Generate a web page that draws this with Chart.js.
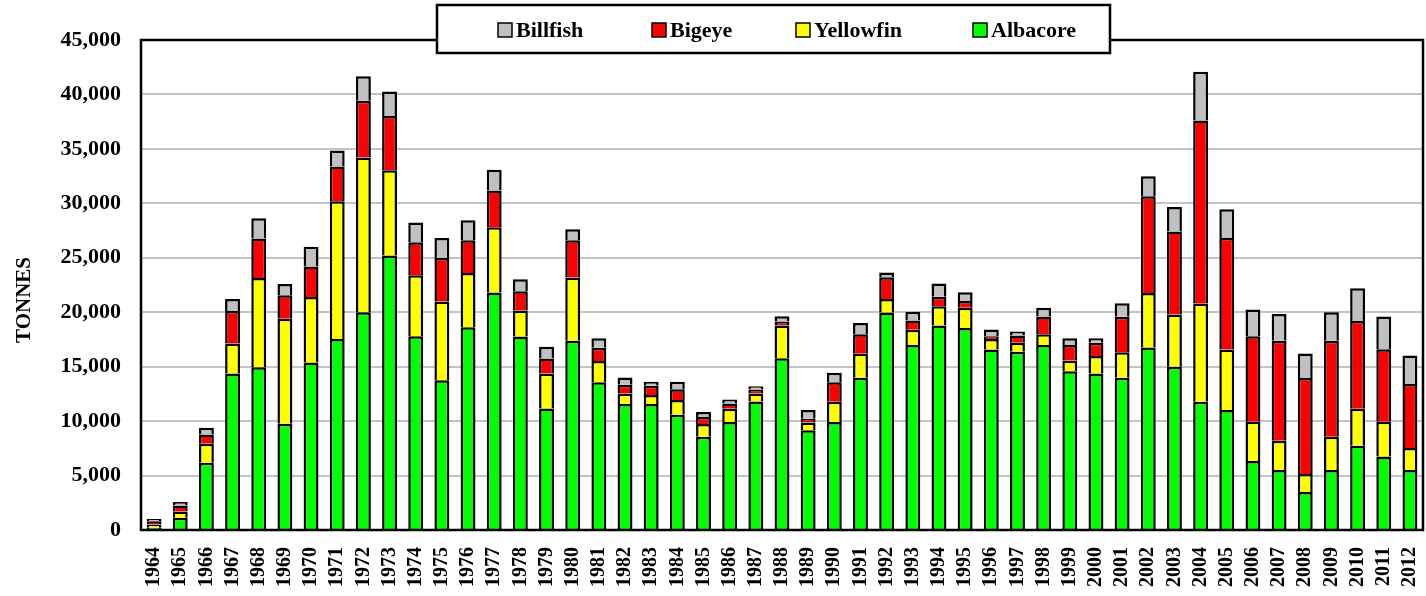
<!DOCTYPE html>
<html>
<head>
<meta charset="utf-8">
<title>Catch by species, 1964-2012</title>
<script src="https://cdn.jsdelivr.net/npm/chart.js@4.4.1/dist/chart.umd.min.js"></script>
<style>
  html, body { margin: 0; padding: 0; background: #fff; }
  #wrap { width: 1426px; height: 596px; }
</style>
</head>
<body>
<div id="wrap"><canvas id="catch-chart" width="1426" height="596"></canvas></div>
<script>
const years = ['1964','1965','1966','1967','1968','1969','1970','1971','1972','1973','1974','1975','1976','1977','1978','1979','1980','1981','1982','1983','1984','1985','1986','1987','1988','1989','1990','1991','1992','1993','1994','1995','1996','1997','1998','1999','2000','2001','2002','2003','2004','2005','2006','2007','2008','2009','2010','2011','2012']

// tonnes
const albacore = [200, 1130, 6180, 14370, 14950, 9760, 15380, 17550, 20000, 25200, 17800, 13760, 18620, 21800, 17770, 11160, 17370, 13580, 11560, 11560, 10580, 8560, 9910, 11800, 15780, 9170, 9910, 13980, 19970, 17000, 18780, 18560, 16570, 16360, 17000, 14590, 14370, 13980, 16760, 14990, 11770, 11010, 6330, 5510, 3490, 5510, 7740, 6760, 5510]
const yellowfin = [300, 580, 1740, 2750, 8200, 9630, 6020, 12630, 14220, 7830, 5590, 7220, 4990, 6000, 2380, 3210, 5810, 1950, 980, 830, 1350, 1170, 1220, 740, 3000, 710, 1860, 2200, 1250, 1380, 1770, 1840, 980, 830, 980, 980, 1620, 2350, 5010, 4800, 9030, 5560, 3610, 2690, 1650, 3050, 3390, 3180, 2010]
const bigeye = [300, 550, 860, 3000, 3610, 2170, 2790, 3210, 5200, 4980, 3030, 4000, 2990, 3390, 1780, 1380, 3420, 1200, 790, 850, 1000, 650, 490, 360, 360, 330, 1810, 1800, 1990, 860, 860, 640, 250, 670, 1620, 1430, 1200, 3250, 8870, 7620, 16810, 10250, 7860, 9180, 8810, 8810, 8070, 6660, 5880]
const billfish = [200, 310, 610, 1100, 1860, 1040, 1830, 1470, 2260, 2260, 1810, 1840, 1840, 1900, 1100, 1070, 1010, 880, 680, 370, 680, 460, 370, 310, 490, 800, 850, 1040, 430, 800, 1220, 790, 610, 370, 800, 610, 420, 1250, 1840, 2260, 4470, 2630, 2450, 2450, 2270, 2630, 3000, 3000, 2630]

const yTicks = [0, 5000, 10000, 15000, 20000, 25000, 30000, 35000, 40000, 45000]

const serif = '"Liberation Serif", "Times New Roman", serif'

// bottom edge skipped so stacked segments share one separator
function bars(label, data, color) {
  return { label, data, backgroundColor: color, borderColor: '#000', borderWidth: 2.5, borderSkipped: 'start',
    categoryPercentage: 1, barPercentage: 0.57 }
}

// frame round the plot, boxed legend on top of it, and the y title
const frameAndLegend = {
  id: 'frameAndLegend',
  afterDatasetsDraw(chart) {
    const { ctx, chartArea: a } = chart
    ctx.save()
    ctx.strokeStyle = '#000'
    ctx.lineWidth = 2.5
    ctx.strokeRect(a.left, a.top, a.right - a.left, a.bottom - a.top)
    ctx.restore()
  },
  afterDraw(chart) {
    const { ctx } = chart
    ctx.save()
    ctx.fillStyle = '#fff'
    ctx.fillRect(437, 5, 673, 48)
    ctx.strokeStyle = '#000'
    ctx.lineWidth = 2.5
    ctx.strokeRect(437, 5, 673, 48)

    const itemX = [498, 652, 796, 973]
    const ds = chart.data.datasets.slice().reverse()
    ctx.font = 'bold 22px ' + serif
    ctx.textBaseline = 'middle'
    ds.forEach((d, i) => {
      ctx.fillStyle = d.backgroundColor
      ctx.fillRect(itemX[i], 23, 14, 14)
      ctx.lineWidth = 1.5
      ctx.strokeStyle = '#000'
      ctx.strokeRect(itemX[i], 23, 14, 14)
      ctx.fillStyle = '#000'
      ctx.textAlign = 'left'
      ctx.fillText(d.label, itemX[i] + 18, 31)
    })

    ctx.translate(25, 300)
    ctx.rotate(-Math.PI / 2)
    ctx.font = 'bold 21px ' + serif
    ctx.textAlign = 'center'
    ctx.fillText('TONNES', 0, 0)
    ctx.restore()
  }
}

new Chart(document.getElementById('catch-chart'), {
  type: 'bar',
  data: {
    labels: years,
    datasets: [
      bars('Albacore', albacore, '#00FF00'),
      bars('Yellowfin', yellowfin, '#FFFF00'),
      bars('Bigeye', bigeye, '#FF0000'),
      bars('Billfish', billfish, '#C0C0C0')
    ]
  },
  options: {
    responsive: false,
    animation: false,
    devicePixelRatio: 1,
    layout: { padding: { top: 40, right: 3, left: 0, bottom: 0 } },
    plugins: { legend: { display: false }, tooltip: { enabled: false } },
    scales: {
      x: {
        stacked: true,
        grid: { display: false, drawTicks: false },
        border: { display: false },
        ticks: { autoSkip: false, minRotation: 90, maxRotation: 90, padding: 17, color: '#000',
          font: { family: serif, size: 20, weight: 'bold' } },
        afterFit(scale) {
          scale.height = 66
          scale.paddingLeft = 0
          scale.paddingRight = 0
        }
      },
      y: {
        stacked: true,
        min: 0,
        max: 45000,
        afterBuildTicks(scale) { scale.ticks = yTicks.map(v => ({ value: v })) },
        grid: { color: '#c4c4c4', lineWidth: 2, drawTicks: false },
        border: { display: false },
        ticks: { padding: 20, color: '#000', font: { family: serif, size: 22, weight: 'bold' },
          callback: v => v.toLocaleString('en-US') },
        afterFit(scale) {
          scale.width = 141
          scale.paddingTop = 0
          scale.paddingBottom = 0
        }
      }
    }
  },
  plugins: [frameAndLegend]
})
</script>
</body>
</html>
